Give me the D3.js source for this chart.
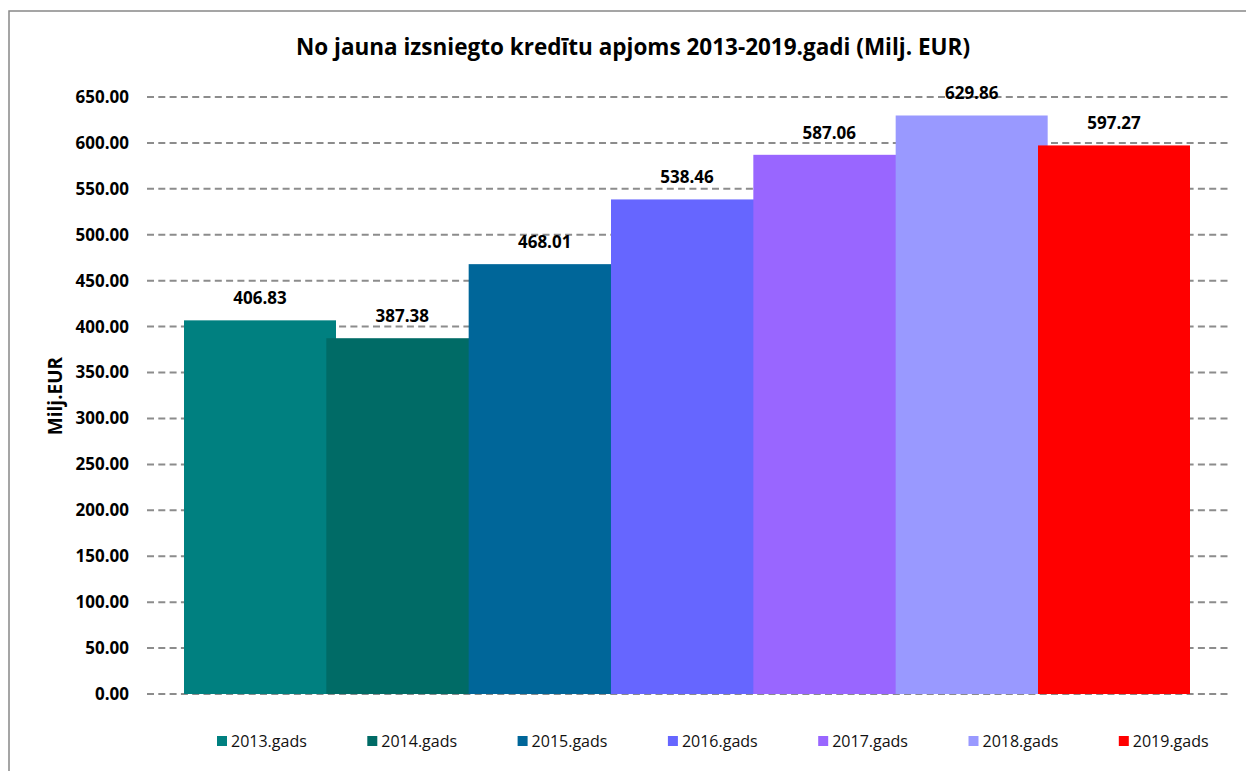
<!DOCTYPE html>
<html>
<head>
<meta charset="utf-8">
<script src="https://cdn.jsdelivr.net/npm/d3@7"></script>
<style>
  body { margin: 0; background: #fff; }
  svg { display: block; font-family: "Open Sans", sans-serif; }
</style>
</head>
<body>
<svg id="chart" width="1246" height="771"></svg>
<script>
const years = ["2013.gads", "2014.gads", "2015.gads", "2016.gads", "2017.gads", "2018.gads", "2019.gads"]
const values = [406.83, 387.38, 468.01, 538.46, 587.06, 629.86, 597.27]
const colors = ["#008080", "#006b66", "#006699", "#6666ff", "#9966ff", "#9999ff", "#ff0000"]
const yTicks = d3.range(0, 651, 50)

const svg = d3.select("#chart")
const barWidth = 152

// frame (right and bottom edges fall outside the picture)
svg.append("rect")
  .attr("x", 9).attr("y", 11)
  .attr("width", 1260).attr("height", 800)
  .attr("fill", "none")
  .attr("stroke", "#888")
  .attr("stroke-width", 1.5)

const x = d3.scalePoint().domain(years).range([260, 1114])
const y = d3.scaleLinear().domain([0, 650]).range([694, 97])

svg.append("text")
  .attr("x", 633).attr("y", 55)
  .attr("text-anchor", "middle")
  .attr("font-size", 22.5).attr("font-weight", "bold")
  .text("No jauna izsniegto kredītu apjoms 2013-2019.gadi (Milj. EUR)")

// grid lines
svg.append("g").selectAll("line")
  .data(yTicks)
  .join("line")
  .attr("x1", 147).attr("x2", 1228)
  .attr("y1", d => y(d)).attr("y2", d => y(d))
  .attr("stroke", "#8c8c8c")
  .attr("stroke-width", 2)
  .attr("stroke-dasharray", "7,4.3")

// y axis labels
const yAxis = d3.axisLeft(y).tickValues(yTicks).tickFormat(d3.format(".2f")).tickSize(0).tickPadding(0)
svg.append("g")
  .attr("transform", "translate(129,0)")
  .call(yAxis)
  .call(g => g.select(".domain").remove())
  .call(g => g.selectAll("text")
    .attr("font-family", "Open Sans")
    .attr("font-size", 17).attr("font-weight", "bold").attr("fill", "#000"))

svg.append("text")
  .attr("transform", "translate(62,396) rotate(-90)")
  .attr("text-anchor", "middle")
  .attr("font-size", 19).attr("font-weight", "bold")
  .text("Milj.EUR")

// bars, later ones drawn on top of earlier ones
svg.append("g").selectAll("rect")
  .data(values)
  .join("rect")
  .attr("x", (d, i) => x(years[i]) - barWidth / 2)
  .attr("y", d => y(d))
  .attr("width", barWidth)
  .attr("height", d => y(0) - y(d))
  .attr("fill", (d, i) => colors[i])

svg.append("g").selectAll("text")
  .data(values)
  .join("text")
  .attr("x", (d, i) => x(years[i]))
  .attr("y", d => y(d) - 16)
  .attr("text-anchor", "middle")
  .attr("font-size", 17).attr("font-weight", "bold")
  .text(d => d.toFixed(2))

// legend
const legend = svg.append("g").selectAll("g")
  .data(years)
  .join("g")
  .attr("transform", (d, i) => `translate(${217 + i * 150.3},736)`)
legend.append("rect")
  .attr("width", 10).attr("height", 10)
  .attr("fill", (d, i) => colors[i])
legend.append("text")
  .attr("x", 14).attr("y", 11)
  .attr("font-size", 16)
  .attr("fill", "#111")
  .text(d => d)
</script>
</body>
</html>
